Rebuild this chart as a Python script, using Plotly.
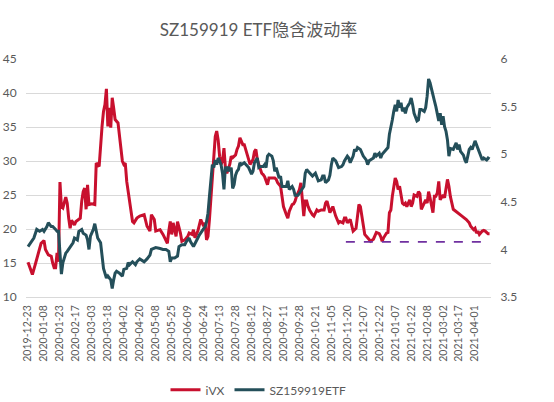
import pandas as pd
import plotly.graph_objects as go

# trading calendar (SZSE), holidays removed
holidays = ["2020-01-01", "2020-01-24", "2020-01-27", "2020-01-28", "2020-01-29",
            "2020-01-30", "2020-01-31", "2020-04-06", "2020-05-01", "2020-05-04",
            "2020-05-05", "2020-06-25", "2020-06-26", "2020-10-01", "2020-10-02",
            "2020-10-05", "2020-10-06", "2020-10-07", "2020-10-08", "2021-01-01",
            "2021-02-11", "2021-02-12", "2021-02-15", "2021-02-16", "2021-02-17",
            "2021-04-05"]
days = pd.bdate_range("2019-12-23", "2021-04-16")
days = days[~days.isin(pd.to_datetime(holidays))]
day_labels = [d.strftime("%Y-%m-%d") for d in days]

# iVX (left axis): trading-day number -> value
ivx_day = [0, 2, 3, 5, 7, 8, 9, 11, 12, 14, 16, 17, 18, 19, 20, 21, 22, 23, 24, 26,
           27, 28, 29, 30, 32, 33, 36, 37, 38, 39, 40, 41, 42, 44, 46, 47, 48, 49, 51, 52,
           53, 54, 55, 56, 57, 58, 59, 60, 62, 63, 65, 66, 67, 68, 70, 72, 73, 75, 77, 80,
           82, 84, 85, 87, 88, 91, 93, 95, 96, 97, 98, 99, 100, 102, 103, 105, 106, 108, 110, 111,
           113, 114, 115, 117, 118, 119, 121, 122, 123, 124, 125, 126, 127, 128, 129, 130, 131, 132, 133, 134,
           135, 136, 137, 139, 140, 141, 143, 144, 145, 146, 148, 149, 150, 151, 152, 153, 155, 156, 157, 158,
           159, 161, 162, 163, 165, 166, 167, 169, 170, 171, 172, 174, 175, 176, 178, 179, 180, 182, 183, 184,
           185, 187, 188, 189, 190, 191, 192, 193, 194, 196, 197, 199, 200, 202, 204, 205, 206, 207, 208, 210,
           211, 212, 214, 215, 217, 218, 219, 220, 222, 223, 224, 226, 227, 228, 229, 230, 231, 232, 234, 235,
           236, 238, 239, 240, 242, 243, 244, 245, 247, 248, 249, 250, 251, 253, 254, 255, 256, 257, 258, 259,
           260, 261, 263, 264, 265, 266, 268, 269, 270, 271, 273, 274, 275, 276, 277, 279, 280, 281, 282, 283,
           284, 286, 287, 288, 289, 290, 291, 293, 295, 297, 299, 302, 304, 305, 307, 308, 309, 310, 311, 313,
           314, 315, 317, 318]
ivx_val = [15.1, 13.8, 13.3, 14.8, 16.2, 17.0, 17.9, 18.3, 17.0, 16.2, 16.0, 15.0, 14.3, 14.3, 16.5, 15.2, 26.9, 23.3, 23.1, 24.7,
           23.8, 21.6, 20.1, 21.3, 20.6, 21.1, 21.6, 24.1, 25.5, 26.0, 22.9, 26.5, 23.6, 23.7, 23.6, 29.7, 29.5, 29.2, 35.1, 37.3,
           38.3, 40.6, 35.1, 37.8, 34.9, 39.3, 37.8, 36.1, 35.6, 33.6, 30.0, 29.5, 29.7, 27.0, 23.8, 21.1, 20.9, 21.6, 21.9, 22.1,
           20.4, 19.7, 22.1, 21.4, 19.7, 19.9, 19.2, 18.2, 17.9, 19.7, 21.1, 19.2, 20.9, 18.9, 21.1, 19.4, 18.2, 18.4, 18.9, 19.4,
           19.2, 19.9, 18.7, 19.7, 20.6, 21.4, 20.4, 20.9, 18.4, 18.9, 21.4, 24.8, 27.7, 31.7, 33.6, 34.4, 33.1, 30.7, 29.5, 30.0,
           31.9, 29.0, 28.2, 29.5, 30.7, 30.5, 30.9, 31.7, 32.2, 33.4, 32.4, 32.4, 31.7, 31.2, 30.2, 29.5, 30.2, 31.4, 31.7, 30.2,
           29.5, 28.2, 28.0, 27.7, 26.5, 27.5, 27.5, 27.5, 27.5, 27.3, 26.8, 26.3, 24.8, 23.3, 22.1, 21.6, 22.6, 23.6, 23.7, 24.1,
           24.8, 25.8, 26.8, 24.8, 21.9, 24.1, 24.1, 23.3, 22.8, 22.1, 21.9, 22.8, 22.6, 22.8, 22.8, 23.8, 24.1, 23.3, 22.4, 23.3,
           22.4, 21.9, 20.9, 21.1, 20.9, 21.6, 21.6, 20.9, 21.4, 20.6, 19.7, 20.1, 22.4, 23.6, 23.3, 21.9, 19.9, 19.2, 18.7, 18.4,
           18.2, 18.5, 18.9, 19.5, 19.3, 18.9, 18.2, 18.7, 19.4, 19.5, 22.4, 22.8, 24.8, 27.5, 27.0, 25.8, 26.3, 24.8, 23.8, 23.6,
           23.8, 23.3, 24.3, 23.3, 23.8, 25.0, 24.8, 25.5, 25.2, 22.9, 23.8, 24.3, 23.8, 25.5, 24.6, 22.4, 24.8, 24.8, 25.3, 27.0,
           24.3, 25.0, 24.6, 26.3, 27.3, 26.3, 24.8, 22.9, 22.6, 22.3, 21.9, 21.4, 20.9, 20.4, 19.9, 20.1, 19.4, 19.7, 19.2, 19.7,
           19.8, 19.7, 19.3, 19.3]

# SZ159919 ETF price (right axis)
etf_day = [0, 2, 4, 6, 8, 10, 11, 13, 14, 16, 17, 19, 20, 21, 22, 23, 24, 26, 27, 29,
           31, 32, 34, 35, 37, 38, 40, 41, 42, 43, 45, 46, 47, 48, 50, 51, 52, 54, 55, 57,
           58, 59, 60, 61, 63, 65, 66, 68, 69, 70, 72, 74, 75, 77, 80, 82, 84, 85, 87, 88,
           91, 93, 95, 97, 98, 99, 101, 103, 104, 106, 108, 109, 111, 112, 114, 116, 117, 118, 120, 121,
           122, 123, 124, 125, 126, 127, 128, 129, 130, 131, 132, 133, 134, 135, 136, 137, 138, 139, 140, 141,
           142, 143, 144, 145, 146, 147, 149, 150, 151, 152, 154, 155, 156, 158, 159, 160, 162, 163, 164, 165,
           166, 168, 169, 170, 171, 173, 174, 175, 177, 178, 179, 180, 182, 183, 184, 186, 187, 188, 190, 191,
           192, 193, 194, 195, 196, 198, 199, 200, 202, 203, 204, 205, 207, 208, 209, 210, 212, 213, 214, 216,
           217, 218, 220, 221, 222, 224, 225, 226, 227, 229, 230, 231, 233, 234, 235, 236, 238, 239, 240, 242,
           243, 244, 246, 247, 248, 249, 250, 251, 252, 253, 254, 255, 256, 257, 258, 259, 260, 261, 263, 264,
           265, 266, 268, 269, 270, 271, 273, 274, 275, 276, 277, 279, 280, 281, 282, 283, 284, 285, 286, 287,
           288, 289, 290, 291, 293, 294, 295, 296, 297, 298, 300, 301, 302, 303, 304, 305, 306, 308, 309, 310,
           312, 313, 314, 316, 317, 318]
etf_val = [4.03, 4.07, 4.12, 4.21, 4.19, 4.21, 4.19, 4.24, 4.28, 4.24, 4.24, 4.21, 4.19, 4.19, 3.96, 3.74, 3.86, 3.96, 3.98, 4.03,
           4.07, 4.12, 4.10, 4.19, 4.21, 4.17, 4.15, 4.10, 4.00, 4.14, 4.21, 4.27, 4.17, 4.12, 4.07, 3.96, 3.80, 3.70, 3.72, 3.68,
           3.59, 3.68, 3.75, 3.77, 3.75, 3.72, 3.79, 3.80, 3.86, 3.84, 3.87, 3.84, 3.87, 3.90, 3.87, 3.90, 3.94, 4.00, 4.01, 4.02,
           4.01, 4.00, 4.00, 3.98, 3.87, 3.91, 3.91, 3.93, 4.03, 4.05, 4.05, 4.08, 4.12, 4.08, 4.03, 4.08, 4.12, 4.15, 4.19, 4.22,
           4.24, 4.29, 4.38, 4.56, 4.73, 4.89, 4.86, 4.94, 4.89, 4.96, 4.93, 4.89, 4.80, 4.63, 4.87, 4.82, 4.87, 4.82, 4.86, 4.64,
           4.68, 4.78, 4.82, 4.84, 4.91, 4.89, 4.91, 4.89, 4.87, 4.86, 4.79, 4.82, 4.91, 4.96, 4.86, 4.87, 4.87, 4.89, 4.86, 4.98,
           5.00, 4.98, 4.93, 4.82, 4.86, 4.75, 4.77, 4.66, 4.66, 4.66, 4.72, 4.63, 4.66, 4.63, 4.57, 4.57, 4.59, 4.61, 4.66, 4.80,
           4.84, 4.82, 4.80, 4.78, 4.77, 4.80, 4.75, 4.72, 4.73, 4.77, 4.77, 4.70, 4.73, 4.78, 4.89, 4.96, 4.93, 4.89, 4.86, 4.87,
           4.89, 4.93, 4.98, 4.96, 4.91, 4.98, 5.05, 5.03, 5.07, 5.05, 5.01, 4.98, 4.94, 4.89, 4.93, 4.94, 4.96, 5.01, 4.98, 5.01,
           4.96, 5.00, 5.03, 5.05, 5.07, 5.21, 5.31, 5.36, 5.45, 5.52, 5.45, 5.57, 5.49, 5.54, 5.45, 5.49, 5.43, 5.49, 5.54, 5.59,
           5.52, 5.43, 5.35, 5.36, 5.47, 5.47, 5.45, 5.49, 5.61, 5.79, 5.75, 5.64, 5.56, 5.50, 5.40, 5.35, 5.43, 5.31, 5.40, 5.29,
           5.24, 5.15, 4.98, 5.06, 5.05, 5.08, 5.12, 5.05, 5.10, 5.03, 4.99, 4.94, 4.91, 4.98, 5.05, 5.07, 5.05, 5.14, 5.10, 5.07,
           4.98, 4.94, 4.96, 4.94, 4.96, 4.95]

# dashed reference level for iVX
ref_level = 18.1
ref_start = 219

tick_step = 11
tick_vals = list(range(0, len(day_labels) - 10, tick_step))
tick_text = [day_labels[i] for i in tick_vals]

grey = "#595959"
font_family = "Lato, Noto Sans CJK SC, sans-serif"

fig = go.Figure()
fig.add_trace(go.Scatter(
    x=ivx_day, y=ivx_val, mode="lines", name="iVX",
    line=dict(color="#C8102E", width=3),
    customdata=[day_labels[d] for d in ivx_day],
    hovertemplate="%{customdata}: %{y}<extra>iVX</extra>",
))
fig.add_trace(go.Scatter(
    x=etf_day, y=etf_val, mode="lines", name="SZ159919ETF", yaxis="y2",
    line=dict(color="#244F5A", width=3),
    customdata=[day_labels[d] for d in etf_day],
    hovertemplate="%{customdata}: %{y}<extra>SZ159919ETF</extra>",
))
fig.add_trace(go.Scatter(
    x=[ref_start, len(day_labels) - 1], y=[ref_level, ref_level], mode="lines",
    line=dict(color="#7030A0", width=1.8, dash="dash"),
    showlegend=False, hoverinfo="skip",
))

fig.update_layout(
    width=554, height=402,
    margin=dict(l=26, r=63, t=59, b=105, autoexpand=False),
    paper_bgcolor="white", plot_bgcolor="white",
    font=dict(family=font_family, color=grey, size=12),
    title=dict(text="SZ159919 ETF隐含波动率", x=0.5, xref="paper", xanchor="center",
               y=1 - 30 / 402, yref="container", yanchor="middle",
               font=dict(size=17, color=grey, family=font_family)),
    xaxis=dict(range=[-1.4, 319], tickvals=tick_vals, ticktext=tick_text,
               tickangle=-90, tickfont=dict(size=10.5, color=grey), automargin=False,
               showgrid=False, zeroline=False, showline=True, linecolor="#D9D9D9",
               ticks="outside", ticklen=3, tickcolor="rgba(0,0,0,0)"),
    yaxis=dict(range=[10, 45], dtick=5, gridcolor="#D9D9D9", zeroline=False,
               showline=False, tickfont=dict(size=12, color=grey), automargin=False,
               ticks="outside", ticklen=6, tickcolor="rgba(0,0,0,0)"),
    yaxis2=dict(range=[3.5, 6], dtick=0.5, overlaying="y", side="right",
                showgrid=False, zeroline=False, showline=False, automargin=False,
                tickfont=dict(size=12, color=grey),
                ticks="outside", ticklen=6, tickcolor="rgba(0,0,0,0)"),
    legend=dict(orientation="h", x=0.5, xanchor="center", y=-0.39, yanchor="middle",
                font=dict(size=12, color=grey)),
    showlegend=True,
)

# page has a default body margin; drop it so the figure fills the window
fig.write_html("out.html", config={"displayModeBar": False},
               post_script="document.body.style.margin='0';")
